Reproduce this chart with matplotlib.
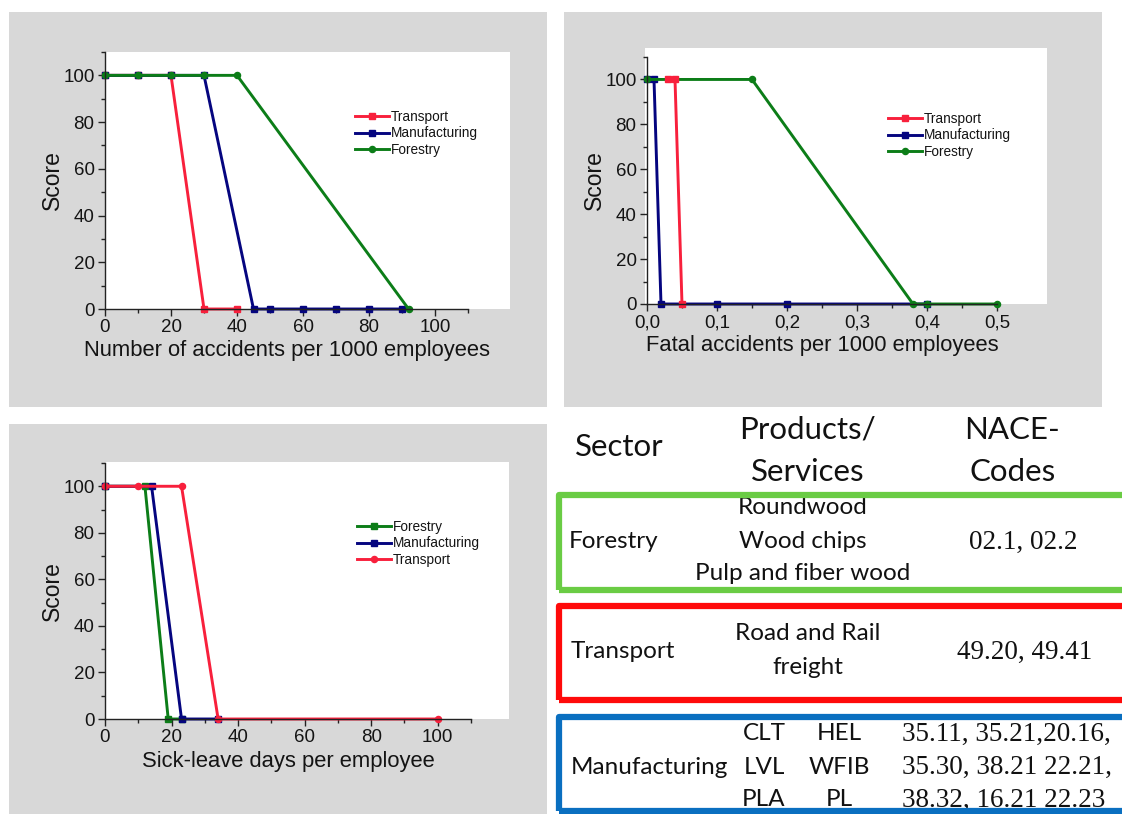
import matplotlib
matplotlib.use("Agg")
import matplotlib.pyplot as plt
from matplotlib.patches import Rectangle
from matplotlib.ticker import MultipleLocator, FixedLocator, FixedFormatter

W, H, DPI = 1122, 814, 100

RED = "#f8203c"
NAVY = "#05057f"
GREEN = "#0c7d18"
PANEL = "#d8d8d8"
TEXT = "#141414"

SANS = ["Liberation Sans", "DejaVu Sans"]
TABLE_SANS = ["Lato", "DejaVu Sans"]
TABLE_SERIF = ["Liberation Serif", "DejaVu Serif"]

# ---- data: accidents per 1000 employees ----
acc_transport_x = [0, 10, 20, 30, 40]
acc_transport_y = [100, 100, 100, 0, 0]
acc_manuf_x = [0, 10, 20, 30, 45, 50, 60, 70, 80, 90]
acc_manuf_y = [100, 100, 100, 100, 0, 0, 0, 0, 0, 0]
acc_forest_x = [0, 10, 20, 30, 40, 92]
acc_forest_y = [100, 100, 100, 100, 100, 0]

# ---- data: fatal accidents per 1000 employees ----
fat_transport_x = [0.03, 0.04, 0.05]
fat_transport_y = [100, 100, 0]
fat_manuf_x = [0, 0.01, 0.02, 0.1, 0.2, 0.4]
fat_manuf_y = [100, 100, 0, 0, 0, 0]
fat_forest_x = [0, 0.15, 0.38, 0.4, 0.5]
fat_forest_y = [100, 100, 0, 0, 0]
fat_ticks = [0.0, 0.1, 0.2, 0.3, 0.4, 0.5]
fat_ticklabels = ["0,0", "0,1", "0,2", "0,3", "0,4", "0,5"]

# ---- data: sick-leave days per employee ----
sick_forest_x = [0, 12, 19, 23]
sick_forest_y = [100, 100, 0, 0]
sick_manuf_x = [0, 14, 23, 34]
sick_manuf_y = [100, 100, 0, 0]
sick_transport_x = [0, 10, 23, 34, 100]
sick_transport_y = [100, 100, 100, 0, 0]

score_ticks = [0, 20, 40, 60, 80, 100]
count_ticks = [0, 20, 40, 60, 80, 100]

# ---- sector table ----
table_header = [("Sector", 619, 447), ("Products/", 807, 430), ("Services", 808, 472),
                ("NACE-", 1012, 430), ("Codes", 1013, 472)]
forestry_products = ["Roundwood", "Wood chips", "Pulp and fiber wood"]
forestry_codes = "02.1, 02.2"
transport_products = ["Road and Rail", "freight"]
transport_codes = "49.20, 49.41"
manuf_products_a = ["CLT", "LVL", "PLA"]
manuf_products_b = ["HEL", "WFIB", "PL"]
manuf_codes = ["35.11, 35.21,20.16,", "35.30, 38.21 22.21,", "38.32, 16.21 22.23"]


def fx(x):
    return x / W


def fy(y):
    return 1 - y / H


def px_rect(x0, y0, x1, y1):
    return [fx(x0), fy(y1), (x1 - x0) / W, (y1 - y0) / H]


fig = plt.figure(figsize=(W / DPI, H / DPI), dpi=DPI)
fig.patch.set_facecolor("white")


def add_box(x0, y0, x1, y1, color, z):
    fig.add_artist(Rectangle((fx(x0), fy(y1)), (x1 - x0) / W, (y1 - y0) / H,
                             transform=fig.transFigure, facecolor=color,
                             edgecolor="none", zorder=z))


# grey panels and white plotting frames
add_box(9, 12, 547, 407, PANEL, -3)
add_box(564, 12, 1102, 407, PANEL, -3)
add_box(9, 424, 547, 814, PANEL, -3)
add_box(105, 52, 510, 309, "white", -2)
add_box(645, 48, 1047, 304, "white", -2)
add_box(105, 462, 509, 719, "white", -2)


def make_axes(rect, xmax):
    ax = fig.add_axes(px_rect(*rect))
    ax.set_facecolor("none")
    ax.set_xlim(0, xmax)
    ax.set_ylim(0, 110)
    for s in ("top", "right"):
        ax.spines[s].set_visible(False)
    for s in ("left", "bottom"):
        ax.spines[s].set_linewidth(1.0)
        ax.spines[s].set_color("#222222")
    ax.yaxis.set_major_locator(FixedLocator(score_ticks))
    ax.yaxis.set_minor_locator(MultipleLocator(10))
    ax.tick_params(which="major", direction="out", length=5, width=1,
                   labelsize=13.5, pad=2.5, colors="#222222", labelcolor=TEXT)
    ax.tick_params(which="minor", direction="out", length=3, width=1,
                   colors="#222222")
    return ax


def series(ax, x, y, color, marker, label):
    return ax.plot(x, y, color=color, lw=2.1, marker=marker, ms=4.4,
                   mec=color, mfc=color, clip_on=False, label=label)[0]


def finish(ax, xlabel, xlab_off, ax_h, legend_handles, legend_xy):
    ax.set_xlabel(xlabel, fontsize=15.8, family=SANS, color=TEXT, va="center")
    ax.xaxis.set_label_coords(0.5, -xlab_off / ax_h)
    ax.set_ylabel("Score", fontsize=16.5, family=SANS, color=TEXT, va="center")
    ax.yaxis.set_label_coords(-53 / (ax.get_position().width * W), 0.5)
    for lab in ax.get_xticklabels() + ax.get_yticklabels():
        lab.set_family(SANS)
    ax.legend(handles=legend_handles, loc="upper left",
              bbox_to_anchor=(fx(legend_xy[0]), fy(legend_xy[1])),
              bbox_transform=fig.transFigure, frameon=False,
              prop={"family": SANS, "size": 9.8}, handlelength=2.5,
              handletextpad=0.1, labelspacing=0.18, borderpad=0,
              borderaxespad=0, labelcolor=TEXT)


# accidents per 1000 employees
ax1 = make_axes((105, 52, 468, 309), 110)
ax1.xaxis.set_major_locator(FixedLocator(count_ticks))
ax1.xaxis.set_minor_locator(MultipleLocator(10))
h_t = series(ax1, acc_transport_x, acc_transport_y, RED, "s", "Transport")
h_m = series(ax1, acc_manuf_x, acc_manuf_y, NAVY, "s", "Manufacturing")
h_f = series(ax1, acc_forest_x, acc_forest_y, GREEN, "o", "Forestry")
finish(ax1, "Number of accidents per 1000 employees", 41, 257,
       [h_t, h_m, h_f], (355, 110))

# fatal accidents per 1000 employees
ax2 = make_axes((647, 57, 997, 304), 0.5)
ax2.xaxis.set_major_locator(FixedLocator(fat_ticks))
ax2.xaxis.set_major_formatter(FixedFormatter(fat_ticklabels))
ax2.xaxis.set_minor_locator(MultipleLocator(0.05))
g_m = series(ax2, fat_manuf_x, fat_manuf_y, NAVY, "s", "Manufacturing")
g_f = series(ax2, fat_forest_x, fat_forest_y, GREEN, "o", "Forestry")
g_t = series(ax2, fat_transport_x, fat_transport_y, RED, "s", "Transport")
finish(ax2, "Fatal accidents per 1000 employees", 41, 247,
       [g_t, g_m, g_f], (888, 112))

# sick-leave days per employee
ax3 = make_axes((105, 463, 471, 719), 110)
ax3.xaxis.set_major_locator(FixedLocator(count_ticks))
ax3.xaxis.set_minor_locator(MultipleLocator(10))
k_f = series(ax3, sick_forest_x, sick_forest_y, GREEN, "s", "Forestry")
k_m = series(ax3, sick_manuf_x, sick_manuf_y, NAVY, "s", "Manufacturing")
k_t = series(ax3, sick_transport_x, sick_transport_y, RED, "o", "Transport")
finish(ax3, "Sick-leave days per employee", 42, 256,
       [k_f, k_m, k_t], (357, 520))


# ---- sector table ----
def ttext(x, y, s, size, fam=TABLE_SANS, ha="center"):
    fig.text(fx(x), fy(y), s, ha=ha, va="center", fontsize=size,
             family=fam, color="#111111", zorder=1)


for s, x, y in table_header:
    ttext(x, y, s, 22.5)


def frame(y0, y1, color):
    fig.add_artist(Rectangle((fx(559), fy(y1)), (1130 - 559) / W, (y1 - y0) / H,
                             transform=fig.transFigure, facecolor="none",
                             edgecolor=color, lw=4.5, joinstyle="round",
                             zorder=2))


frame(495, 590, "#6acc44")
frame(606, 700, "#ff0a0a")
frame(717, 811, "#0a6fc0")

ttext(569, 541, "Forestry", 17.5, ha="left")
for s, y in zip(forestry_products, [507, 541, 573]):
    ttext(803, y, s, 17.5)
ttext(1023, 542, forestry_codes, 19.5, fam=TABLE_SERIF)

ttext(571, 651, "Transport", 17.5, ha="left")
for s, y in zip(transport_products, [634, 667]):
    ttext(808, y, s, 17.5)
ttext(1025, 652, transport_codes, 19.5, fam=TABLE_SERIF)

ttext(571, 767, "Manufacturing", 17.5, ha="left")
for a, b, c, y in zip(manuf_products_a, manuf_products_b, manuf_codes,
                      [734, 767, 800]):
    ttext(764, y, a, 17.5)
    ttext(839, y, b, 17.5)
    ttext(902, y, c, 19.5, fam=TABLE_SERIF, ha="left")

fig.savefig("out.png", dpi=DPI)
